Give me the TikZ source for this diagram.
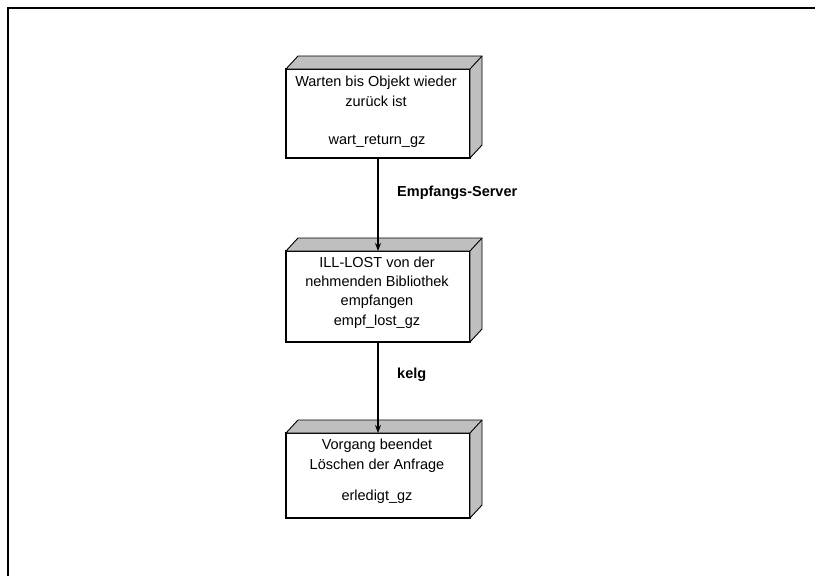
\documentclass[tikz,border=0pt]{standalone}
\usepackage{fontspec}
\setmainfont{Liberation Sans}
\usetikzlibrary{calc,arrows.meta}
\tikzset{
  front/.style={draw=black, line width=1.2pt, fill=white, minimum width=184pt, inner sep=0pt, outer sep=0pt},
  face/.style={draw=black, line width=0.9pt, fill=gray!50},
  boxtext/.style={align=center, inner sep=0pt, font=\fontsize{14.5}{20}\selectfont},
  lbl/.style={inner sep=0pt, font=\fontsize{14.5}{18}\selectfont\bfseries},
  flow/.style={line width=1.3pt, -{Stealth[length=8pt,width=6pt]}},
}
\newcommand{\boxfaces}[1]{%
  \path[face] (#1.north west) -- ++(12,-13) -- ($(#1.north east)+(12,-13)$) -- ($(#1.south east)+(12,-13)$) -- (#1.south east) -- (#1.north east) -- cycle;
  \draw[line width=0.9pt] (#1.north east) -- ++(12,-13);
}
\begin{document}
\begin{tikzpicture}[x=1pt,y=-1pt]
\useasboundingbox (0,0) rectangle (815,576);
\fill[white] (0,0) rectangle (815,576);
\coordinate (fa) at (8,8);
\coordinate (fb) at (816,8);
\coordinate (fc) at (8,577);
\draw[line width=1.5pt] (fb) -- (fa) -- (fc);

% boxes
\node[front, minimum height=89pt] (b1) at (378,113.5) {};
\node[front, minimum height=91pt] (b2) at (378,296.5) {};
\node[front, minimum height=85pt] (b3) at (378,475.5) {};
\boxfaces{b1}
\boxfaces{b2}
\boxfaces{b3}

% texts
\node[boxtext] (t1a) at (376,91.7) {Warten bis Objekt wieder\\zurück ist};
\node[boxtext] (t1b) at (377,141) {wart\_return\_gz};
\node[boxtext, font=\fontsize{14.5}{19.2}\selectfont] (t2) at (377,292.5) {ILL-LOST von der\\nehmenden Bibliothek\\empfangen\\empf\_lost\_gz};
\node[boxtext] (t3a) at (377,456) {Vorgang beendet\\Löschen der Anfrage};
\node[boxtext] (t3b) at (377,496.7) {erledigt\_gz};

% connectors
\draw[flow] (b1.south) -- (b2.north);
\draw[flow] (b2.south) -- (b3.north);
\node[lbl, anchor=west] (l1) at (397,193) {Empfangs-Server};
\node[lbl, anchor=west] (l2) at (397,375) {kelg};
\end{tikzpicture}
\end{document}
